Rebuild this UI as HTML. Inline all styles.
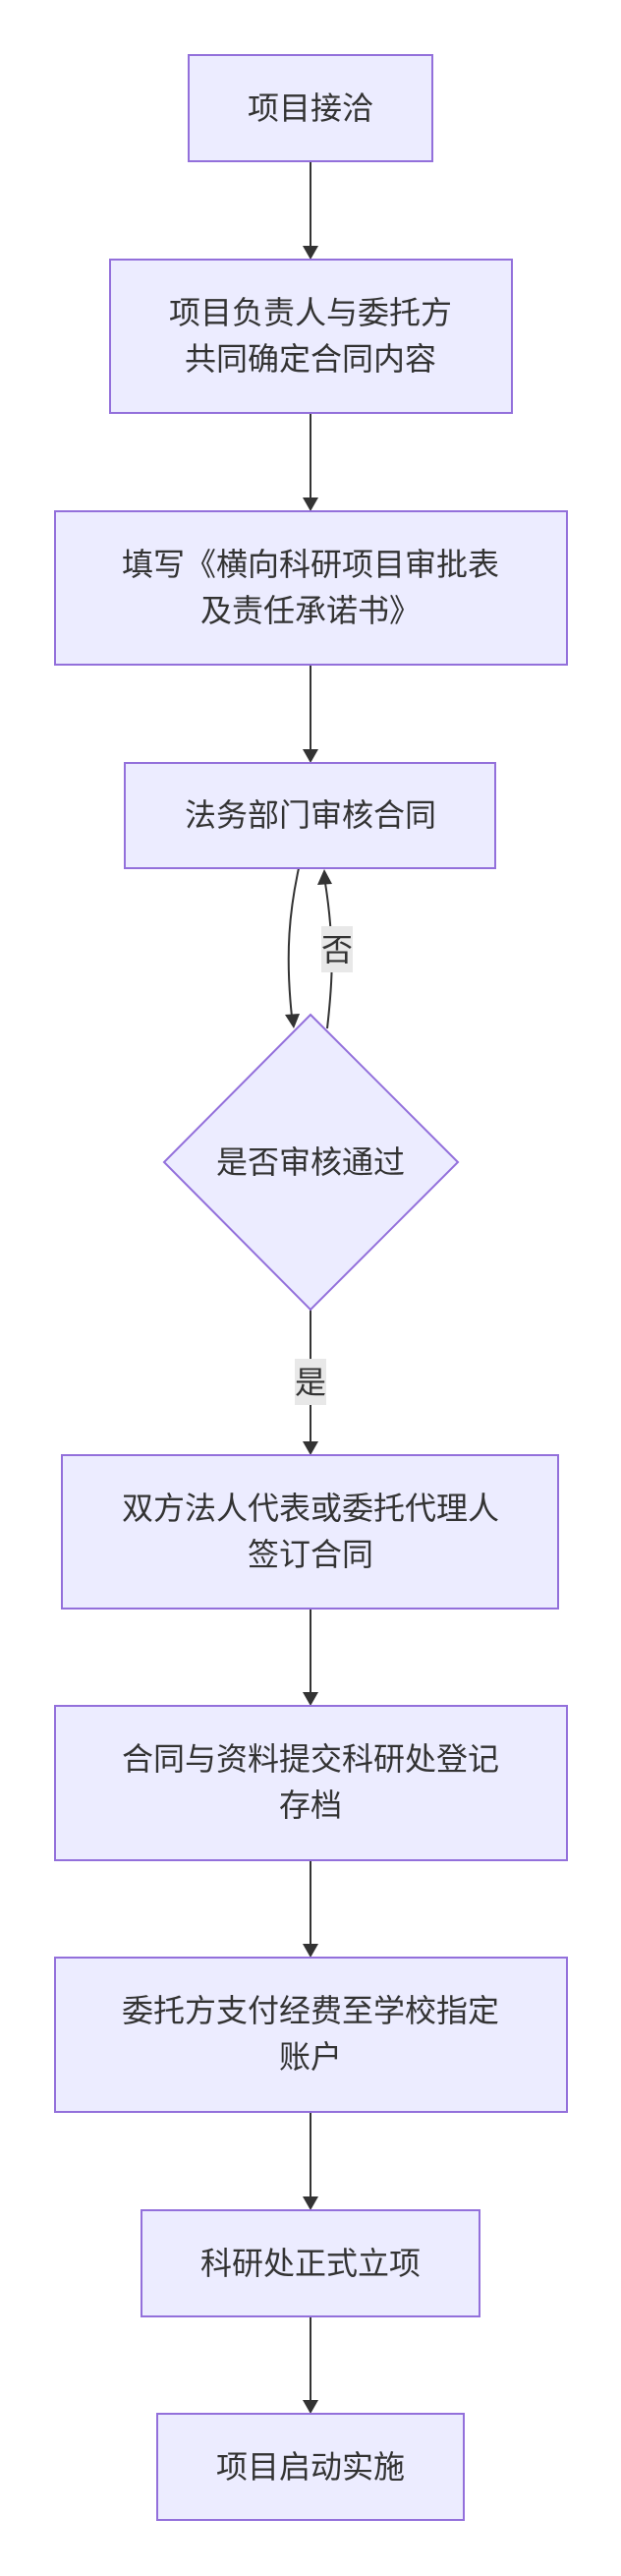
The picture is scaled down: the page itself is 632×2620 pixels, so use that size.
<!DOCTYPE html>
<html><head><meta charset="utf-8"><style>
body{margin:0;background:#fff;}
svg{display:block}
text{font-family:"Liberation Sans","Noto Sans CJK SC",sans-serif;font-size:32px;fill:#333;text-anchor:middle;}
.b{fill:#ECECFF;stroke:#9370DB;stroke-width:2;}
.e{stroke:#333;stroke-width:2;fill:none;}
.a{fill:#333;}
</style></head><body>
<svg width="632" height="2620" viewBox="0 0 632 2620">
<path class="e" d="M316 164V252"/><path class="a" d="M308 250h16l-8 14z"/>
<path class="e" d="M316 420V508"/><path class="a" d="M308 506h16l-8 14z"/>
<path class="e" d="M316 676V764"/><path class="a" d="M308 762h16l-8 14z"/>
<path class="e" d="M304 883C295 925 290 968 297 1034"/><path class="a" d="M290 1032l15 -1l-6 15z"/>
<path class="e" d="M333 1046C337 1010 342 968 331 898"/><path class="a" d="M323 900l15 -1l-8 -15z"/>
<rect x="327" y="942" width="32" height="47" fill="#e8e8e8"/>
<text x="343" y="977">否</text>
<path class="e" d="M316 1332V1468"/><path class="a" d="M308 1466h16l-8 14z"/>
<rect x="300" y="1382" width="32" height="47" fill="#e8e8e8"/>
<text x="316" y="1417">是</text>
<path class="e" d="M316 1636V1723"/><path class="a" d="M308 1721h16l-8 14z"/>
<path class="e" d="M316 1892V1979"/><path class="a" d="M308 1977h16l-8 14z"/>
<path class="e" d="M316 2148V2236"/><path class="a" d="M308 2234h16l-8 14z"/>
<path class="e" d="M316 2356V2443"/><path class="a" d="M308 2441h16l-8 14z"/>
<rect class="b" x="192" y="56" width="248" height="108"/>
<text x="316" y="121">项目接洽</text>
<rect class="b" x="112" y="264" width="409" height="156"/>
<text x="316" y="329">项目负责人与委托方</text><text x="316" y="376">共同确定合同内容</text>
<rect class="b" x="56" y="520" width="521" height="156"/>
<text x="316" y="585">填写《横向科研项目审批表</text><text x="316" y="632">及责任承诺书》</text>
<rect class="b" x="127" y="776" width="377" height="107"/>
<text x="316" y="840">法务部门审核合同</text>
<path class="b" d="M316 1032L466 1182L316 1332L167 1182Z"/>
<text x="316" y="1193">是否审核通过</text>
<rect class="b" x="63" y="1480" width="505" height="156"/>
<text x="316" y="1545">双方法人代表或委托代理人</text><text x="316" y="1592">签订合同</text>
<rect class="b" x="56" y="1735" width="521" height="157"/>
<text x="316" y="1800">合同与资料提交科研处登记</text><text x="316" y="1847">存档</text>
<rect class="b" x="56" y="1991" width="521" height="157"/>
<text x="316" y="2056">委托方支付经费至学校指定</text><text x="316" y="2103">账户</text>
<rect class="b" x="144" y="2248" width="344" height="108"/>
<text x="316" y="2313">科研处正式立项</text>
<rect class="b" x="160" y="2455" width="312" height="108"/>
<text x="316" y="2520">项目启动实施</text>
</svg>
</body></html>
